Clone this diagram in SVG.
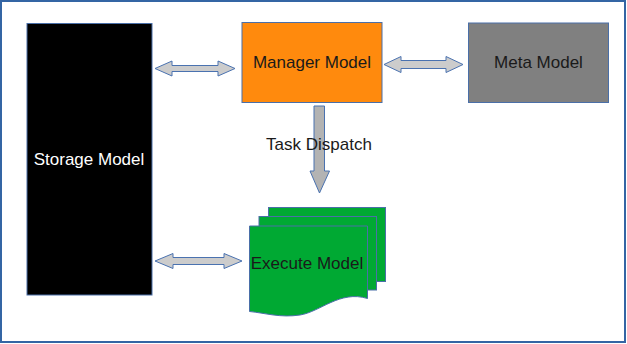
<svg xmlns="http://www.w3.org/2000/svg" width="627" height="344" viewBox="0 0 627 344">
  <style>
    .frame { fill: #ffffff; stroke: #3465a4; stroke-width: 2; }
    .box { stroke: #4a6fa8; stroke-width: 1; }
    .label { font-family: "Liberation Sans", Arial, sans-serif; font-size: 17px; text-anchor: middle; dominant-baseline: central; }
    .dbl { fill: #cccccc; stroke: #4a72b0; stroke-width: 1; stroke-linejoin: miter; }
    .down { fill: #b3b3b3; stroke: #4a72b0; stroke-width: 1; }
  </style>

  <rect class="frame" x="1" y="1" width="624" height="341"/>

  <g id="storage">
    <rect class="box" x="27" y="23.5" width="125" height="271.5" fill="#000000"/>
    <text class="label" x="89" y="159" fill="#ffffff">Storage Model</text>
  </g>

  <g id="manager">
    <rect class="box" x="242" y="22.5" width="140" height="80" fill="#ff8a0d"/>
    <text class="label" x="312" y="62.5" fill="#1a1a1a">Manager Model</text>
  </g>

  <g id="meta">
    <rect class="box" x="468.5" y="23" width="140" height="79.5" fill="#808080"/>
    <text class="label" x="538.5" y="62.5" fill="#1a1a1a">Meta Model</text>
  </g>

  <g id="execute">
    <rect class="box" x="268.5" y="207.5" width="117" height="74" fill="#00a933"/>
    <rect class="box" x="259" y="216.5" width="117.5" height="73.5" fill="#00a933"/>
    <path class="box" fill="#00a933" d="M249.5,226 H367.5 V298.5 C340,290 320,312 300,315 C280,318 265,313 249.5,311.5 Z"/>
    <text class="label" x="307" y="263.5" fill="#1a1a1a">Execute Model</text>
  </g>

  <g id="connectors">
    <!-- storage <-> manager -->
    <path class="dbl" d="M155,68.5 L172,61 L172,65.5 L218,65.5 L218,61 L235,68.5 L218,76 L218,71.5 L172,71.5 L172,76 Z"/>
    <!-- manager <-> meta -->
    <path class="dbl" d="M384,64.5 L401,56.5 L401,60.5 L446,60.5 L446,56.5 L463,64.5 L446,72.5 L446,68.5 L401,68.5 L401,72.5 Z"/>
    <!-- storage <-> execute -->
    <path class="dbl" d="M155,261 L173,253.5 L173,257.5 L224,257.5 L224,253.5 L242,261 L224,268.5 L224,264.5 L173,264.5 L173,268.5 Z"/>
    <!-- task dispatch -->
    <path class="down" d="M314,106 L324.5,106 L324.5,171 L329.5,171 L319.5,193 L310,171 L314,171 Z"/>
    <text class="label" x="319" y="144.5" fill="#1a1a1a">Task Dispatch</text>
  </g>
</svg>
